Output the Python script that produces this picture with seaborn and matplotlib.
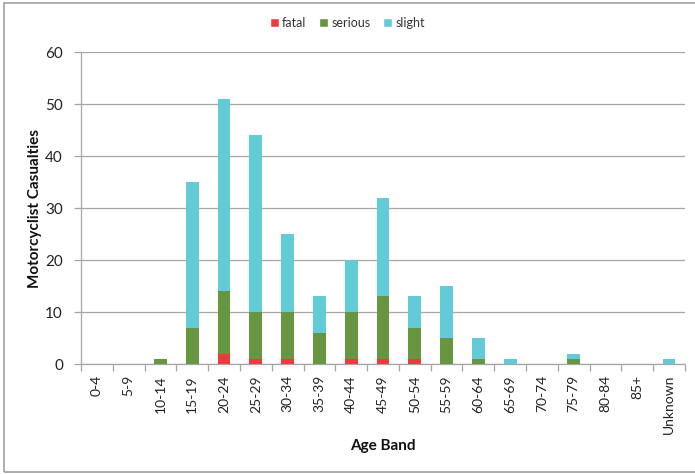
import matplotlib
matplotlib.use("Agg")
import matplotlib.pyplot as plt
from matplotlib.patches import Rectangle, Patch
import seaborn as sns
import pandas as pd
import numpy as np

age_bands = ["0-4", "5-9", "10-14", "15-19", "20-24", "25-29", "30-34", "35-39",
             "40-44", "45-49", "50-54", "55-59", "60-64", "65-69", "70-74",
             "75-79", "80-84", "85+", "Unknown"]
fatal = [0, 0, 0, 0, 2, 1, 1, 0, 1, 1, 1, 0, 0, 0, 0, 0, 0, 0, 0]
serious = [0, 0, 1, 7, 12, 9, 9, 6, 9, 12, 6, 5, 1, 0, 0, 1, 0, 0, 0]
slight = [0, 0, 0, 28, 37, 34, 15, 7, 10, 19, 6, 10, 4, 1, 0, 1, 0, 0, 1]

colors = {"fatal": "#EE3A3F", "serious": "#66963F", "slight": "#63CAD8"}

sns.set_theme(style="white")
plt.rcParams['font.family'] = ['Lato', 'DejaVu Sans']

fig = plt.figure(figsize=(6.95, 4.74), dpi=100)
ax = fig.add_axes([81/695, 1-364/474, (685-81)/695, (364-52)/474])

df = pd.DataFrame({"band": age_bands, "fatal": fatal, "serious": serious, "slight": slight})
bottom = np.zeros(len(age_bands))
for s in ["fatal", "serious", "slight"]:
    ax.bar(df["band"], df[s], bottom=bottom, width=0.4, color=colors[s],
           label=s, zorder=3, linewidth=0)
    bottom = bottom + df[s].values

ax.set_xlim(-0.5, len(age_bands) - 0.5)
ax.set_ylim(0, 60)
ax.set_yticks(range(0, 61, 10))
ax.yaxis.grid(True, color="#A6A6A6", linewidth=0.9, zorder=0)
ax.xaxis.grid(False)
for sp in ["top", "right"]:
    ax.spines[sp].set_visible(False)
for sp in ["left", "bottom"]:
    ax.spines[sp].set_color("#A6A6A6")
    ax.spines[sp].set_linewidth(0.9)

ax.set_xticks(range(len(age_bands)))
ax.set_xticklabels(age_bands, rotation=90, fontsize=10, color="#222222")
ax.set_xticks(np.arange(-0.5, len(age_bands), 1.0), minor=True)
ax.tick_params(axis="x", which="major", length=0, pad=8)
ax.tick_params(axis="x", which="minor", length=5, color="#A6A6A6", width=0.9, bottom=True)
ax.tick_params(axis="y", which="major", length=5, color="#A6A6A6", width=0.9, left=True,
               labelsize=11, labelcolor="#222222", pad=8)

ax.set_ylabel("Motorcyclist Casualties", fontsize=11, fontweight="bold", color="#111111", labelpad=2)
ax.set_xlabel("Age Band", fontsize=11, fontweight="bold", color="#111111", labelpad=3)

handles = [Patch(facecolor=colors[s], label=s) for s in ["fatal", "serious", "slight"]]
fig.legend(handles=handles, loc="center", bbox_to_anchor=(0.5, 1-23/474), ncol=3,
           frameon=False, fontsize=9, handlelength=0.7, handleheight=0.7,
           handletextpad=0.3, columnspacing=1.0, labelcolor="#333333")

fig.patches.append(Rectangle((4/695, 1-472/474), 1.0, (472-3)/474,
                             transform=fig.transFigure, fill=False,
                             edgecolor="#A0A0A0", linewidth=1.2))

fig.savefig("out.png", dpi=100)
